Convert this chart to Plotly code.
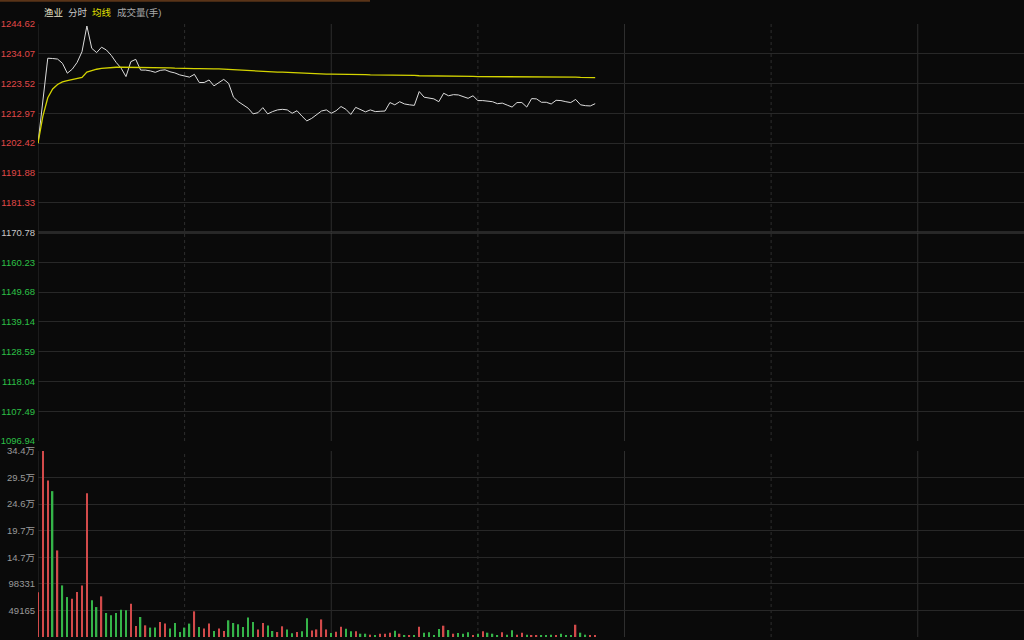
import plotly.graph_objects as go

# ---- data: one point per minute from 09:30 ----
price = [
    1202.4, 1218.0, 1232.5, 1232.4, 1232.2, 1230.7, 1227.2, 1228.6, 1231.0, 1234.8,
    1243.9, 1236.0, 1234.5, 1236.4, 1235.4, 1233.5, 1231.0, 1229.0, 1226.0, 1231.3,
    1232.1, 1228.3, 1228.3, 1228.0, 1227.5, 1228.2, 1228.4, 1227.7, 1227.3, 1226.6,
    1226.3, 1225.8, 1226.8, 1223.9, 1223.9, 1224.8, 1222.7, 1224.0, 1225.0, 1223.6,
    1218.7, 1217.1, 1216.0, 1214.8, 1212.8, 1213.2, 1215.0, 1212.8, 1213.6, 1214.2,
    1214.4, 1214.2, 1213.0, 1213.9, 1212.0, 1210.3, 1211.2, 1212.6, 1213.8, 1214.2,
    1213.0, 1213.9, 1215.4, 1214.4, 1212.6, 1215.1, 1214.2, 1213.5, 1214.2, 1213.6,
    1213.7, 1213.8, 1216.8, 1216.0, 1217.1, 1216.3, 1216.0, 1215.8, 1220.7, 1218.7,
    1218.4, 1218.1, 1217.1, 1220.1, 1219.2, 1219.6, 1219.5, 1218.9, 1218.3, 1219.2,
    1217.5, 1217.5, 1217.3, 1217.1, 1216.4, 1216.6, 1215.9, 1215.2, 1216.8, 1216.8,
    1215.2, 1218.2, 1218.1, 1216.9, 1216.9, 1216.3, 1217.6, 1217.5, 1217.1, 1216.8,
    1217.9, 1216.0, 1215.7, 1215.6, 1216.4,
]

avg_price = [
    1202.4, 1212.0, 1218.5, 1221.6, 1223.2, 1224.1, 1224.6, 1225.0, 1225.3, 1225.7,
    1227.6, 1228.2, 1228.6, 1228.9, 1229.1, 1229.2, 1229.3, 1229.3, 1229.3, 1229.3,
    1229.3, 1229.3, 1229.3, 1229.3, 1229.3, 1229.2, 1229.2, 1229.1, 1229.0, 1228.9,
    1228.8, 1228.8, 1228.8, 1228.8, 1228.7, 1228.7, 1228.7, 1228.7, 1228.6, 1228.6,
    1228.5, 1228.4, 1228.3, 1228.2, 1228.0, 1227.9, 1227.7, 1227.7, 1227.6, 1227.6,
    1227.6, 1227.5, 1227.5, 1227.5, 1227.4, 1227.3, 1227.2, 1227.1, 1227.0, 1226.9,
    1226.9, 1226.9, 1226.8, 1226.8, 1226.8, 1226.7, 1226.7, 1226.7, 1226.6, 1226.6,
    1226.6, 1226.6, 1226.5, 1226.5, 1226.5, 1226.4, 1226.4, 1226.4, 1226.3, 1226.3,
    1226.3, 1226.3, 1226.3, 1226.2, 1226.2, 1226.2, 1226.1, 1226.1, 1226.1, 1226.1,
    1226.0, 1226.0, 1226.0, 1226.0, 1226.0, 1226.0, 1225.9, 1225.9, 1225.9, 1225.9,
    1225.9, 1225.9, 1225.9, 1225.9, 1225.9, 1225.9, 1225.9, 1225.9, 1225.9, 1225.9,
    1225.8, 1225.7, 1225.7, 1225.6, 1225.6,
]

volume = [
    83000, 344158, 289600, 269900, 160200, 95500, 73900, 71000, 83200, 95500,
    266200, 67800, 55400, 75200, 44400, 40100, 44400, 50600, 49300, 61700,
    20300, 37000, 21600, 17400, 17400, 27700, 24800, 15500, 25900, 9200,
    17400, 24800, 47500, 18500, 15500, 24800, 11100, 15500, 11100, 30900,
    25900, 23500, 18500, 35900, 27700, 13700, 25900, 21100, 11100, 9200,
    19800, 13700, 6800, 9200, 10500, 34500, 12000, 14000, 32500, 14000,
    7400, 9800, 19000, 15300, 10500, 10500, 6100, 6100, 4300, 3700,
    6100, 6100, 8000, 11600, 6100, 3700, 3700, 3700, 19000, 8000,
    8600, 3700, 14800, 20900, 12900, 6100, 7400, 6100, 8600, 3700,
    6100, 10500, 8000, 6100, 3000, 8600, 4300, 12400, 4300, 8000,
    4300, 2500, 2500, 2500, 3000, 4300, 3700, 6100, 2500, 2500,
    22700, 8000, 4300, 2500, 2500,
]

# 1 = up (red), -1 = down (green)
direction = [
    1, 1, 1, -1, 1, -1, -1, 1, 1, 1,
    1, -1, -1, 1, -1, -1, -1, -1, -1, 1,
    1, -1, 1, -1, -1, 1, 1, -1, -1, -1,
    -1, -1, 1, -1, 1, 1, -1, 1, 1, -1,
    -1, -1, -1, -1, -1, 1, 1, -1, -1, 1,
    1, -1, -1, 1, -1, -1, 1, 1, 1, 1,
    -1, 1, 1, -1, -1, 1, -1, -1, 1, -1,
    1, 1, 1, -1, 1, -1, 1, -1, 1, -1,
    -1, -1, -1, 1, -1, 1, -1, -1, -1, 1,
    -1, 1, -1, -1, -1, 1, -1, -1, 1, 1,
    -1, 1, 1, -1, -1, -1, 1, -1, -1, -1,
    1, -1, -1, 1, 1,
]

minutes = list(range(len(price)))

pre_close = 1170.78
price_ticks = [1096.94, 1107.49, 1118.04, 1128.59, 1139.14, 1149.68, 1160.23,
               1170.78, 1181.33, 1191.88, 1202.42, 1212.97, 1223.52, 1234.07, 1244.62]
vol_ticks = [0, 49165, 98331, 147496, 196662, 245827, 294993, 344158]
vol_labels = ["", "49165", "98331", "14.7万", "19.7万", "24.6万", "29.5万", "34.4万"]

RED = "#d24a4a"
GREEN = "#35b449"
BG = "#0a0a0a"
GRID = "#282828"
FONT = "Liberation Sans, Arial, Noto Sans CJK SC"

def price_label(v):
    if v > pre_close + 0.001:
        c = "#e04848"
    elif v < pre_close - 0.001:
        c = "#2cc046"
    else:
        c = "#c8c8c8"
    return f'<span style="color:{c}">{v:.2f}</span>'

fig = go.Figure()

fig.add_trace(go.Scatter(
    x=minutes, y=price, mode="lines",
    line=dict(color="#dcdcdc", width=1), hoverinfo="skip",
    xaxis="x", yaxis="y",
))
fig.add_trace(go.Scatter(
    x=minutes, y=avg_price, mode="lines",
    line=dict(color="#d4d400", width=1.3), hoverinfo="skip",
    xaxis="x", yaxis="y",
))
fig.add_trace(go.Bar(
    x=minutes, y=volume,
    marker=dict(color=[RED if d > 0 else GREEN for d in direction], line=dict(width=0)),
    width=0.28, hoverinfo="skip",
    xaxis="x2", yaxis="y2",
))

x_left = 38 / 1024
x_range = [0, (1024 - 38) / (1173 / 240)]

fig.update_layout(
    width=1024, height=640,
    margin=dict(l=0, r=0, t=0, b=0),
    paper_bgcolor=BG, plot_bgcolor=BG,
    showlegend=False,
    font=dict(family=FONT, size=9.5, color="#9a9a9a"),
    xaxis=dict(domain=[x_left, 1], range=x_range, showgrid=False, zeroline=False,
               showticklabels=False, fixedrange=True, automargin=False),
    xaxis2=dict(domain=[x_left, 1], range=x_range, showgrid=False, zeroline=False,
                showticklabels=False, anchor="y2", fixedrange=True, automargin=False),
    yaxis=dict(domain=[1 - 441 / 640, 1 - 24 / 640], range=[1096.94, 1244.62],
               tickvals=price_ticks, ticktext=[price_label(v) for v in price_ticks],
               showgrid=True, gridcolor=GRID, gridwidth=1, zeroline=False,
               ticks="", ticklabelstandoff=2, tickfont=dict(size=9.5), automargin=False,
               fixedrange=True),
    yaxis2=dict(domain=[1 - 637 / 640, 1 - 451 / 640], range=[0, 344158],
                tickvals=vol_ticks, ticktext=vol_labels, anchor="x2",
                showgrid=True, gridcolor=GRID, gridwidth=1, zeroline=False,
                ticks="", ticklabelstandoff=2, tickfont=dict(size=9.5, color="#9a9a9a"),
                automargin=False, fixedrange=True),
)

shapes = []
# vertical half-hour lines, dotted / solid alternating
for m in [0, 30, 60, 90, 120, 150, 180]:
    dash = "dot" if m in (30, 90, 150) else "solid"
    for yr in ("y domain", "y2 domain"):
        shapes.append(dict(type="line", xref="x", yref=yr, x0=m, x1=m, y0=0, y1=1,
                           line=dict(color="#2e2e2e", width=1, dash=dash), layer="below"))
# pre-close line
shapes.append(dict(type="line", xref="paper", yref="y", x0=x_left, x1=1,
                   y0=pre_close, y1=pre_close, line=dict(color="#444444", width=2), layer="below"))
# top strip accent
shapes.append(dict(type="line", xref="paper", yref="paper", x0=0, x1=370 / 1024,
                   y0=0.999, y1=0.999, line=dict(color="#5a3418", width=2)))
fig.update_layout(shapes=shapes)

header = [("渔业", 42, "#e8e2c8"), ("分时", 66, "#c8c8c8"),
          ("均线", 90, "#e0e000"), ("成交量(手)", 115, "#aaaaaa")]
for text, xp, col in header:
    fig.add_annotation(text=text, xref="paper", yref="paper",
                       x=xp / 1024, y=1 - 12 / 640, xanchor="left", yanchor="middle",
                       showarrow=False, font=dict(size=9.5, color=col, family=FONT))

# page body has a default 8px margin; drop it so the figure sits at the corner
fig.write_html("out.html", config={"displayModeBar": False},
               post_script="document.body.style.margin='0';")
